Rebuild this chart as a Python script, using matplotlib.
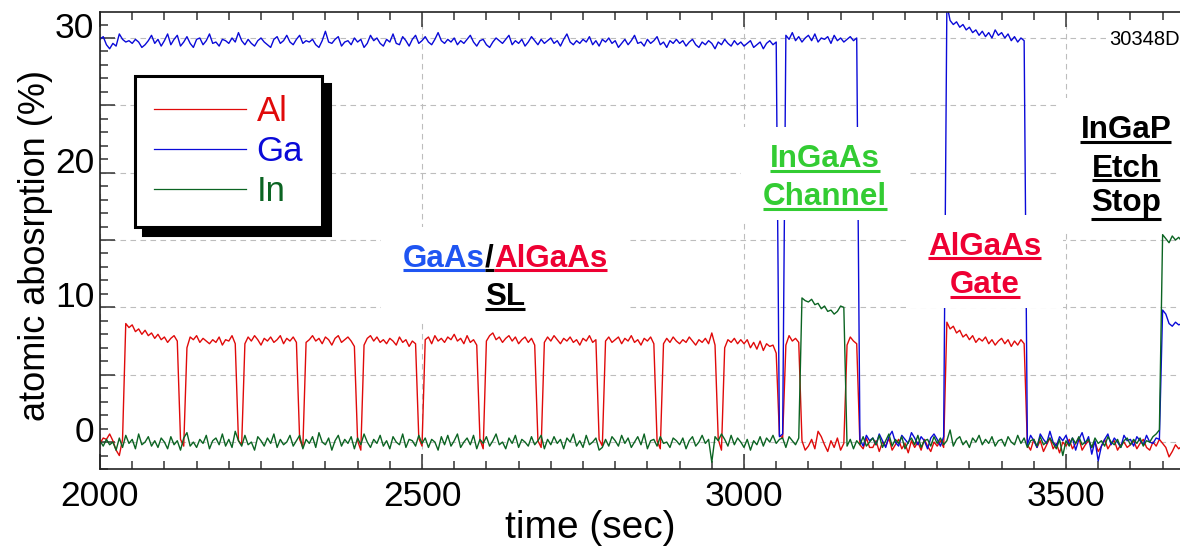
import numpy as np
import matplotlib
matplotlib.use("Agg")
import matplotlib.pyplot as plt
from matplotlib.lines import Line2D
from matplotlib.patches import Rectangle
from matplotlib.ticker import MultipleLocator, FuncFormatter

plt.rcParams['font.family'] = ['Liberation Sans', 'DejaVu Sans']

# Atomic absorption traces, one sample every 5 s starting at t = 2000 s
T_START = 2000
T_STEP = 5

al = [
    -0.1, 0.3, 0.2, 0.6, 0.1, -0.6, -1.0, 0.2, 8.8, 8.5, 8.7, 8.2, 8.4, 8.0, 8.3, 7.9, 8.1, 7.7, 8.0, 7.6,
    7.8, 7.4, 7.7, 7.9, 7.5, 0.2, -0.3, 7.0, 7.8, 7.6, 7.9, 7.4, 7.7, 7.5, 7.3, 7.6, 7.4, 7.8, 7.2, 7.6,
    7.5, 7.9, 7.3, 0.1, -0.2, 7.3, 7.8, 7.5, 7.9, 7.6, 7.2, 7.7, 7.5, 7.8, 7.4, 7.6, 7.9, 7.3, 7.7, 7.5,
    7.8, 7.4, 0.2, -0.4, 7.4, 7.6, 7.9, 7.5, 7.7, 7.3, 7.8, 7.6, 7.2, 7.7, 7.9, 7.4, 7.6, 7.8, 7.5, 7.1,
    0.1, -0.6, 7.2, 7.7, 7.9, 7.5, 7.8, 7.4, 7.6, 7.3, 7.7, 7.5, 7.2, 7.8, 7.4, 7.6, 7.1, 7.5, 7.3, 0.3,
    -0.3, 7.6, 7.8, 7.3, 7.9, 7.5, 7.7, 7.4, 7.8, 7.6, 8.0, 7.5, 7.7, 7.3, 7.9, 7.4, 7.6, 7.2, 0.2, -0.5,
    7.5, 7.9, 8.1, 7.6, 7.8, 7.4, 7.7, 7.9, 7.5, 7.8, 7.3, 7.6, 7.8, 7.4, 7.7, 7.2, 0.1, -0.4, 7.4, 7.8,
    7.5, 7.9, 7.6, 7.3, 7.7, 7.5, 7.8, 7.4, 7.6, 7.2, 7.7, 7.5, 7.9, 7.4, 7.6, 0.2, -0.3, 7.5, 7.8, 7.4,
    7.6, 7.8, 7.3, 7.7, 7.5, 7.9, 7.4, 7.6, 7.2, 7.7, 7.5, 7.8, 7.3, 0.1, -0.5, 7.3, 7.7, 7.4, 7.8, 7.5,
    7.3, 7.6, 7.4, 7.8, 7.5, 7.2, 7.6, 7.4, 7.7, 7.3, 8.1, 7.2, 0.2, -0.6, 7.0, 7.6, 7.4, 7.7, 7.3, 7.6,
    7.3, 7.6, 7.0, 7.4, 6.9, 7.5, 6.8, 7.3, 7.1, 7.2, 6.6, 0.5, 0.3, 7.2, 7.9, 7.5, 7.7, 7.4, 0.1, -0.6,
    -0.3, 0.2, -0.5, 0.8, 0.4, -0.2, -0.7, 0.1, -0.4, 0.3, -0.6, -0.1, 7.2, 7.8, 7.5, 7.3, -0.2, -0.5, 0.3, -0.4,
    -0.4, 0.1, -0.7, 0.0, -0.3, 0.3, -0.6, -0.2, 0.2, -0.5, -0.1, -0.8, 0.1, -0.4, 0.0, -0.6, 0.2, -0.3, -0.7, 0.0,
    -0.3, 0.1, -0.4, 8.9, 8.4, 8.6, 8.1, 8.3, 7.8, 8.0, 7.6, 7.9, 7.4, 7.7, 7.5, 7.8, 7.3, 7.6, 7.2, 7.5,
    7.7, 7.3, 7.6, 7.1, 7.5, 7.2, 7.6, 7.3, -0.2, -0.6, 0.2, -0.4, 0.1, -0.7, -0.2, 0.3, -0.5, -0.1, -0.8, 0.0,
    -0.3, 0.2, -0.5, -0.1, 0.3, -0.6, -0.2, 0.1, -0.4, 0.0, -0.7, -0.3, 0.2, -0.5, -0.1, 0.1, -0.6, -0.2, 0.0, -0.4,
    -0.2, 0.1, -0.5, -0.1, 0.2, -0.4, -0.6, 0.0, -0.3, 0.2, -0.1, -0.4, -1.1, -0.7, -0.2, -0.5, -0.3,
]

ga = [
    29.9, 30.1, 29.5, 29.2, 29.6, 29.4, 30.3, 29.9, 29.7, 29.8, 29.6, 29.9, 29.7, 29.3, 29.5, 29.8, 30.2, 29.6, 29.9, 29.4,
    29.8, 30.3, 29.5, 29.9, 30.2, 29.4, 29.7, 30.1, 29.6, 29.3, 29.9, 30.0, 29.5, 29.8, 30.3, 29.6, 29.7, 29.4, 29.9, 29.8,
    29.6, 30.0, 29.7, 30.4, 29.8, 29.5, 29.9, 29.6, 29.4, 29.8, 30.0, 29.7, 29.5, 29.3, 29.9, 30.1, 29.6, 29.8, 30.2, 29.7,
    29.5, 29.9, 30.2, 29.6, 29.8, 29.7, 29.9, 29.5, 29.3, 29.8, 30.5, 29.7, 29.6, 29.9, 30.1, 29.4, 29.7, 29.8, 29.5, 30.0,
    29.7, 29.9, 29.3, 29.6, 30.2, 29.8, 30.0, 29.6, 29.4, 29.9, 29.7, 30.3, 29.6, 29.5, 30.1, 29.8, 29.4, 29.9, 30.2, 29.6,
    29.8, 30.1, 29.7, 29.5, 29.9, 30.4, 29.8, 29.6, 29.9, 29.7, 30.0, 29.5, 29.8, 29.6, 29.9, 30.2, 29.7, 29.4, 29.8, 29.9,
    29.5, 29.3, 29.7, 30.0, 29.8, 29.6, 29.9, 30.2, 29.5, 29.8, 29.6, 29.9, 29.4, 29.7, 30.1, 29.8, 29.5, 29.9, 29.6, 29.8,
    30.0, 29.6, 29.8, 29.4, 29.9, 30.3, 29.7, 29.5, 29.8, 29.6, 29.9, 29.7, 30.1, 29.5, 29.8, 29.4, 29.9, 29.7, 30.0, 29.6,
    29.8, 29.3, 29.6, 29.9, 29.5, 29.8, 30.2, 29.6, 29.7, 29.4, 29.9, 29.6, 29.8, 30.1, 29.5, 29.7, 29.3, 29.8, 29.6, 29.9,
    29.6, 29.8, 29.4, 29.7, 29.9, 29.5, 29.3, 29.7, 29.5, 29.8, 29.6, 29.2, 29.7, 29.5, 29.9, 29.6, 29.4, 29.8, 29.5, 29.7,
    29.4, 29.6, 29.8, 29.3, 29.5, 29.7, 29.2, 29.6, 29.8, 29.5, 29.7, 0.4, 0.6, 30.2, 29.9, 30.4, 29.8, 30.1, 29.7, 30.0,
    30.2, 29.8, 30.3, 29.7, 30.0, 29.9, 30.1, 29.6, 30.2, 29.8, 30.0, 29.7, 29.9, 30.1, 29.8, 30.0, 0.2, -0.3, 0.5, 0.1,
    0.3, -0.2, 0.6, 0.1, -0.4, 0.4, 0.8, 0.0, -0.3, 0.5, 0.2, -0.1, 0.7, 0.3, -0.2, 0.4, 0.1, -0.5, 0.3, 0.6,
    0.2, -0.3, 0.4, 32.5, 31.3, 31.0, 31.2, 30.8, 31.0, 30.6, 30.8, 30.4, 30.6, 30.2, 30.5, 30.1, 30.4, 30.0, 30.6, 30.2,
    30.4, 30.0, 30.3, 29.8, 30.1, 29.7, 30.0, 29.8, -0.2, 0.5, 0.1, -0.4, 0.6, 0.2, -0.1, 0.8, 0.0, -0.3, 0.4, 0.1,
    0.5, -0.2, 0.3, -0.6, 0.2, 0.7, -0.1, 0.4, -0.9, 0.1, -1.4, -0.3, 0.2, 0.6, -0.2, 0.3, 0.0, -0.4, 0.5, 0.1,
    0.2, -0.3, 0.4, 0.1, -0.2, 0.5, 0.0, -0.1, 0.3, 0.2, 9.8, 9.5, 8.8, 8.6, 8.9, 8.7, 8.8,
]

indium = [
    0.1, -0.3, 0.2, -0.2, 0.0, -0.6, 0.3, -0.4, 0.5, -0.1, 0.2, -0.5, 0.6, -0.2, 0.0, 0.4, -0.3, 0.1, -0.4, 0.3,
    0.0, -0.5, 0.4, -0.2, 0.1, -0.6, 0.3, 0.7, -0.3, 0.0, -0.4, 0.2, -0.1, 0.5, -0.5, 0.1, 0.3, -0.2, 0.6, -0.3,
    0.2, -0.4, 0.8, 0.1, -0.3, 0.5, -0.2, 0.0, -0.6, 0.4, 0.1, -0.3, 0.3, -0.1, 0.6, -0.4, 0.2, -0.2, 0.0, 0.5,
    -0.3, 0.1, 0.5, -0.5, 0.2, -0.1, 0.4, -0.4, 0.7, 0.0, -0.2, 0.3, -0.6, 0.1, 0.5, -0.3, 0.2, -0.1, 0.4, -0.5,
    0.3, -0.2, 0.6, 0.0, -0.4, 0.2, -0.1, 0.5, -0.3, 0.1, -0.5, 0.4, 0.0, -0.2, 0.6, -0.4, 0.2, 0.1, -0.3, 0.5,
    -0.1, 0.3, -0.4, 0.2, 0.0, -0.6, 0.4, -0.2, 0.5, -0.3, 0.1, 0.6, -0.4, 0.0, 0.3, -0.2, 0.5, -0.5, 0.2, -0.1,
    0.4, -0.3, 0.1, 0.6, -0.2, 0.0, -0.5, 0.3, -0.1, 0.5, -0.4, 0.2, 0.0, -0.3, 0.4, -0.2, 0.1, 0.5, -0.5, 0.2,
    -0.2, 0.4, -0.1, 0.2, -0.5, 0.3, 0.0, 0.6, -0.3, 0.1, -0.4, 0.5, -0.2, 0.0, 0.3, -0.6, -0.4, 0.2, -0.3, 0.4,
    0.1, -0.3, 0.5, -0.1, 0.3, -0.4, 0.0, 0.4, -0.2, 0.6, -0.5, 0.1, 0.2, -0.3, 0.4, -0.1, 0.0, -0.4, 0.3, 0.1,
    -0.2, 0.3, -0.5, 0.1, 0.4, -0.3, 0.0, 0.5, -0.1, 0.2, -1.5, 0.4, 0.1, 0.6, 0.2, -0.3, 0.5, -0.2, 0.3, 0.0,
    -0.4, 0.2, -0.6, 0.1, -0.2, 0.4, -0.3, 0.3, 0.0, 0.5, -0.1, 0.2, 0.3, -0.4, 0.4, 0.1, -0.2, 0.3, 10.7, 10.5,
    10.4, 10.6, 10.2, 10.3, 9.9, 10.1, 9.7, 9.8, 9.5, 9.7, 10.1, 10.0, -0.3, 0.2, -0.5, 0.1, -0.2, 0.4, -0.3, 0.0,
    0.3, -0.2, 0.5, -0.4, 0.1, 0.6, -0.3, 0.2, -0.1, 0.4, -0.5, 0.0, 0.3, -0.2, 0.5, -0.4, 0.1, 0.2, -0.3, 0.4,
    -0.1, 0.3, -0.2, 0.1, 0.9, -0.3, 0.2, 0.4, -0.2, 0.1, -0.4, 0.3, 0.0, 0.5, -0.2, 0.2, -0.1, 0.4, -0.3, 0.1,
    0.2, -0.3, 0.4, 0.0, -0.2, 0.5, -0.1, 0.3, -0.4, 0.1, 0.2, -0.3, 0.4, -0.2, 0.0, 0.3, -0.1, -0.5, 0.2, -1.0,
    0.1, -0.3, 0.3, -0.1, 0.4, -0.2, 0.0, 0.2, -0.4, 0.3, -0.1, 0.1, -0.3, 0.4, 0.0, -0.2, 0.2, -0.4, 0.1, 0.3,
    -0.2, 0.2, -0.1, 0.3, -0.3, 0.1, 0.0, 0.4, 0.6, 0.9, 15.4, 15.1, 14.8, 15.3, 15.0, 15.2, 14.9,
]

series_names = ["Al", "Ga", "In"]
series_colors = ["#e00a0a", "#0a0ad8", "#0b6422"]

# Layer annotations: centre time, then (baseline value, [(text, colour), ...]) per line
annotations = [
    (2629, [(13.0, [("GaAs", "#1f55f2"), ("/", "black"), ("AlGaAs", "#ee0033")]),
            (10.17, [("SL", "black")])]),
    (3126, [(20.42, [("InGaAs", "#33cc33")]),
            (17.60, [("Channel", "#33cc33")])]),
    (3374, [(13.89, [("AlGaAs", "#ee0033")]),
            (11.06, [("Gate", "#ee0033")])]),
    (3593, [(22.57, [("InGaP", "black")]),
            (19.68, [("Etch", "black")]),
            (17.15, [("Stop", "black")])]),
]

fig = plt.figure(figsize=(11.8, 5.49), dpi=100)
ax = fig.add_axes([100 / 1180, 80 / 549, 1080 / 1180, 457 / 549])

lines = []
for vals, name, col, z in zip([al, ga, indium], series_names, series_colors, [2.0, 2.1, 2.2]):
    t = T_START + T_STEP * np.arange(len(vals))
    ln, = ax.plot(t, vals, color=col, lw=1.0, label=name, zorder=z)
    lines.append(ln)

ax.set_xlim(2000, 3677)
ax.set_ylim(-2.0, 31.93)

ax.xaxis.set_major_locator(MultipleLocator(500))
ax.xaxis.set_minor_locator(MultipleLocator(50))
ax.yaxis.set_major_locator(MultipleLocator(5))
ax.yaxis.set_minor_locator(MultipleLocator(1))
ax.yaxis.set_major_formatter(FuncFormatter(lambda v, p: f"{v:.0f}" if int(round(v)) % 10 == 0 else ""))

ax.tick_params(which='both', direction='in', top=True, right=False,
               color='#333333', width=1.1)
ax.tick_params(which='major', length=11, labelsize=25.5)
ax.tick_params(axis='x', which='major', pad=8)
ax.tick_params(axis='y', which='major', pad=4)
ax.tick_params(which='minor', length=6)
for lab in ax.get_yticklabels():
    lab.set_verticalalignment('baseline')

for side in ['left', 'bottom', 'top']:
    ax.spines[side].set_linewidth(1.2)
    ax.spines[side].set_color('#222222')
ax.spines['right'].set_visible(False)

ax.grid(True, which='major', color='#bdbdbd', linestyle=(0, (5, 4)), linewidth=0.8, zorder=0)
ax.set_axisbelow(True)

ax.set_xlabel('time (sec)', fontsize=28, va='center')
ax.xaxis.set_label_coords(0.4537, -0.129)
ax.set_ylabel('atomic abosrption (%)', fontsize=26, va='center')
ax.yaxis.set_label_coords(-0.060, 0.49)

leg = ax.legend(handles=lines, loc='upper left',
                bbox_to_anchor=(135 / 1180, 1 - 76 / 549), bbox_transform=fig.transFigure,
                borderaxespad=0, fancybox=False, framealpha=1, edgecolor='black',
                shadow={'ox': 5.5, 'oy': -5.5, 'color': 'black', 'alpha': 1},
                fontsize=25, handlelength=2.65, handletextpad=0.3, borderpad=0.55,
                labelspacing=0.2, labelcolor='linecolor')
leg.get_frame().set_linewidth(2.2)
for h in leg.legend_handles:
    h.set_linewidth(0.9)
leg.set_zorder(7)

ax.text(3567, 29.48, '30348D', fontsize=14.5, ha='left', va='baseline', zorder=6,
        bbox=dict(facecolor='white', edgecolor='none', pad=2))

# Underlined, multi-coloured layer labels on white panels
fig.canvas.draw()
renderer = fig.canvas.get_renderer()
to_axes = ax.transAxes.inverted()
for t_center, rows in annotations:
    block = []
    for base_val, parts in rows:
        texts = [ax.text(0, 0, s, color=c, fontsize=22.6, fontweight='bold',
                         ha='left', va='baseline', zorder=6) for s, c in parts]
        widths = [tx.get_window_extent(renderer).width for tx in texts]
        xc, yb = ax.transData.transform((t_center, base_val))
        left = xc - sum(widths) / 2
        has_desc = any(ch in 'gjpqy' for s, _ in parts for ch in s)
        uy = yb - (8 if has_desc else 3.5)
        for tx, w, (s, c) in zip(texts, widths, parts):
            tx.set_transform(ax.transAxes)
            tx.set_position(to_axes.transform((left, yb)))
            p0 = to_axes.transform((left, uy))
            p1 = to_axes.transform((left + w, uy))
            ax.add_line(Line2D([p0[0], p1[0]], [p0[1], p1[1]], transform=ax.transAxes,
                               color=c, lw=2.2, solid_capstyle='butt', clip_on=False, zorder=6))
            left += w
        fs_px = 22.6 * 100 / 72
        block.append((xc - sum(widths) / 2, xc + sum(widths) / 2, uy - 1, yb + 0.72 * fs_px))
    x0 = min(b[0] for b in block) - 22
    x1 = max(b[1] for b in block) + 22
    y0 = min(b[2] for b in block) - 10
    y1 = max(b[3] for b in block) + 17
    a0 = to_axes.transform((x0, y0))
    a1 = to_axes.transform((x1, y1))
    ax.add_patch(Rectangle(a0, a1[0] - a0[0], a1[1] - a0[1], transform=ax.transAxes,
                           facecolor='white', edgecolor='none', zorder=5, clip_on=True))

fig.savefig('out.png', dpi=100)
